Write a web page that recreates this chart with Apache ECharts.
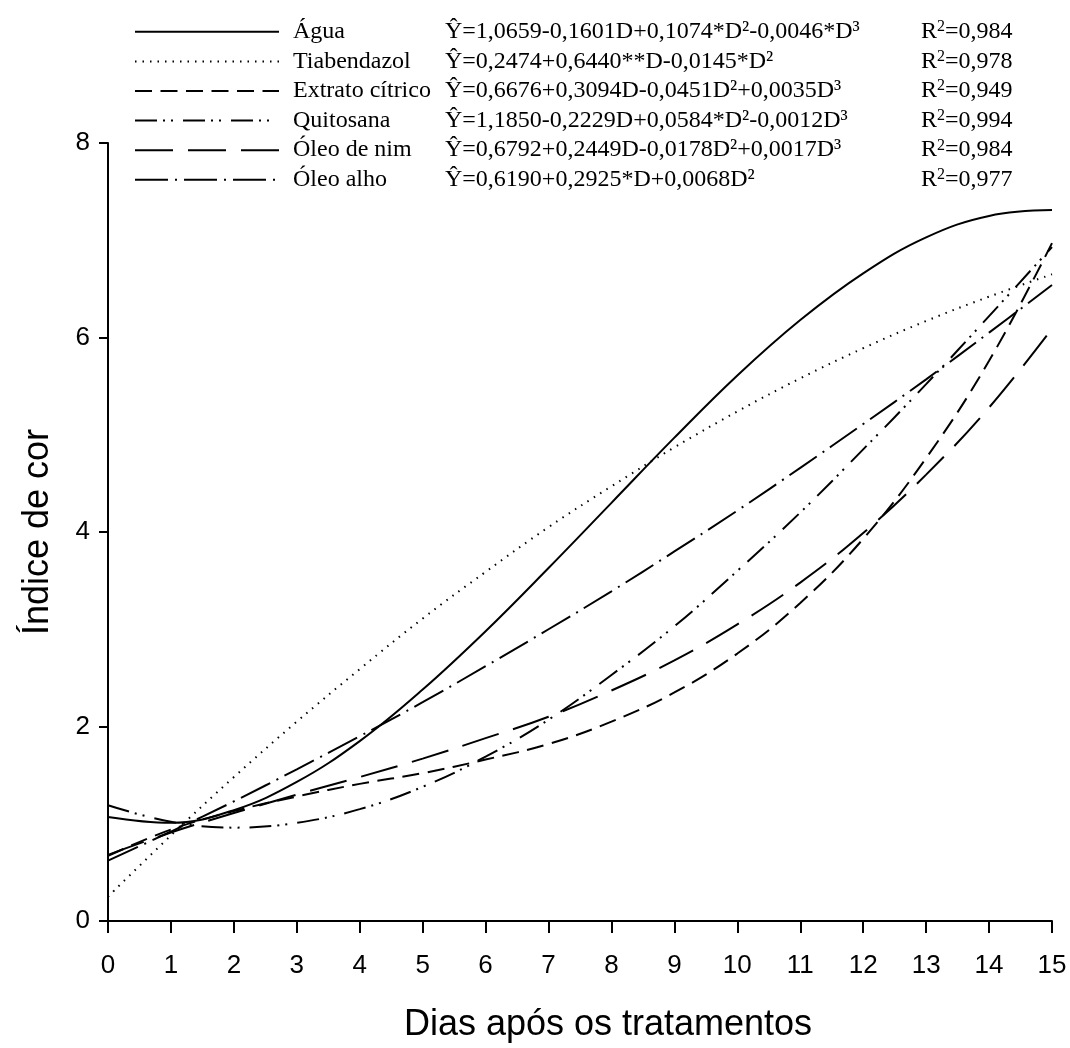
<!DOCTYPE html>
<html>
<head>
<meta charset="utf-8">
<script src="https://cdn.jsdelivr.net/npm/echarts@6/dist/echarts.min.js"></script>
<style>
html, body { margin: 0; padding: 0; background: #fff; }
#chart { width: 1070px; height: 1048px; }
</style>
</head>
<body>
<div id="chart"></div>
<script>
// dias após os tratamentos
var dias = [0, 1, 2, 3, 4, 5, 6, 7, 8, 9, 10, 11, 12, 13, 14, 15];

// índice de cor
var agua        = [1.07, 1.01, 1.14, 1.43, 1.85, 2.38, 2.98, 3.63, 4.30, 4.97, 5.61, 6.18, 6.66, 7.03, 7.25, 7.31];
var tiabendazol = [0.25, 0.88, 1.48, 2.05, 2.59, 3.11, 3.59, 4.05, 4.47, 4.87, 5.24, 5.58, 5.89, 6.17, 6.42, 6.65];
var extrato     = [0.67, 0.94, 1.13, 1.28, 1.41, 1.52, 1.66, 1.82, 2.05, 2.35, 2.75, 3.27, 3.93, 4.76, 5.76, 6.97];
var quitosana   = [1.19, 1.02, 0.96, 1.01, 1.15, 1.38, 1.69, 2.07, 2.53, 3.03, 3.60, 4.20, 4.85, 5.52, 6.22, 6.93];
var oleoNim     = [0.68, 0.91, 1.11, 1.30, 1.48, 1.67, 1.88, 2.10, 2.37, 2.68, 3.05, 3.48, 3.99, 4.59, 5.28, 6.09];
var oleoAlho    = [0.62, 0.92, 1.23, 1.56, 1.90, 2.25, 2.62, 3.00, 3.39, 3.80, 4.22, 4.66, 5.11, 5.57, 6.05, 6.54];

var nomes = ['Água', 'Tiabendazol', 'Extrato cítrico', 'Quitosana', 'Óleo de nim', 'Óleo alho'];
var equacoes = [
    'Ŷ=1,0659-0,1601D+0,1074*D²-0,0046*D³',
    'Ŷ=0,2474+0,6440**D-0,0145*D²',
    'Ŷ=0,6676+0,3094D-0,0451D²+0,0035D³',
    'Ŷ=1,1850-0,2229D+0,0584*D²-0,0012D³',
    'Ŷ=0,6792+0,2449D-0,0178D²+0,0017D³',
    'Ŷ=0,6190+0,2925*D+0,0068D²'
];
var r2 = ['0,984', '0,978', '0,949', '0,994', '0,984', '0,977'];

var valores = [agua, tiabendazol, extrato, quitosana, oleoNim, oleoAlho];
var tracos = [
    'solid',
    [1.5, 6],
    [17, 8.5],
    [22, 6, 2, 6, 2, 10],
    [38, 15],
    [33, 7, 2, 7]
];

var chart = echarts.init(document.getElementById('chart'));

var series = nomes.map(function (nome, i) {
    return {
        name: nome,
        type: 'line',
        smooth: 0.4,
        symbol: 'none',
        data: dias.map(function (d, k) { return [d, valores[i][k]]; }),
        lineStyle: { color: '#000', width: 2, type: tracos[i] },
        itemStyle: { color: '#000' }
    };
});

var serif = 'Liberation Serif';
var sans = 'Liberation Sans';
var lh = 29.6;

chart.setOption({
    animation: false,
    backgroundColor: '#fff',
    grid: { left: 108, right: 18, top: 143, bottom: 126 },
    legend: {
        orient: 'vertical',
        left: 134,
        top: 17,
        padding: 0,
        itemWidth: 144,
        itemHeight: 14,
        itemGap: 0,
        selectedMode: false,
        itemStyle: { opacity: 0 },
        data: nomes,
        formatter: function (name) {
            var i = nomes.indexOf(name);
            return '{n|' + name + '}{e|' + equacoes[i] + '}{r|R}{s|2}{r|=' + r2[i] + '}';
        },
        textStyle: {
            fontFamily: serif,
            fontSize: 24,
            color: '#000',
            lineHeight: lh,
            rich: {
                n: { fontFamily: serif, fontSize: 24, lineHeight: lh, width: 152, padding: [0, 0, 0, 9] },
                e: { fontFamily: serif, fontSize: 24, lineHeight: lh, width: 476 },
                r: { fontFamily: serif, fontSize: 24, lineHeight: lh },
                s: { fontFamily: serif, fontSize: 16, lineHeight: 16, verticalAlign: 'top', padding: [2, 0, 0, 0] }
            }
        }
    },
    xAxis: {
        type: 'value',
        min: 0,
        max: 15,
        interval: 1,
        name: 'Dias após os tratamentos',
        nameLocation: 'middle',
        nameGap: 86,
        nameTextStyle: { fontFamily: sans, fontSize: 36, color: '#000', padding: [0, 0, 0, 56] },
        axisLine: { show: true, lineStyle: { color: '#000', width: 2 } },
        axisTick: { show: true, length: 12, lineStyle: { color: '#000', width: 2 } },
        axisLabel: { fontFamily: sans, fontSize: 26, color: '#000', margin: 32 },
        splitLine: { show: false }
    },
    yAxis: {
        type: 'value',
        min: 0,
        max: 8,
        interval: 2,
        name: 'Índice de cor',
        nameLocation: 'middle',
        nameGap: 52,
        nameTextStyle: { fontFamily: sans, fontSize: 36, color: '#000' },
        axisLine: { show: true, lineStyle: { color: '#000', width: 2 } },
        axisTick: { show: true, length: 9, lineStyle: { color: '#000', width: 2 } },
        axisLabel: { fontFamily: sans, fontSize: 26, color: '#000', margin: 18 },
        splitLine: { show: false }
    },
    series: series
});
</script>
</body>
</html>
